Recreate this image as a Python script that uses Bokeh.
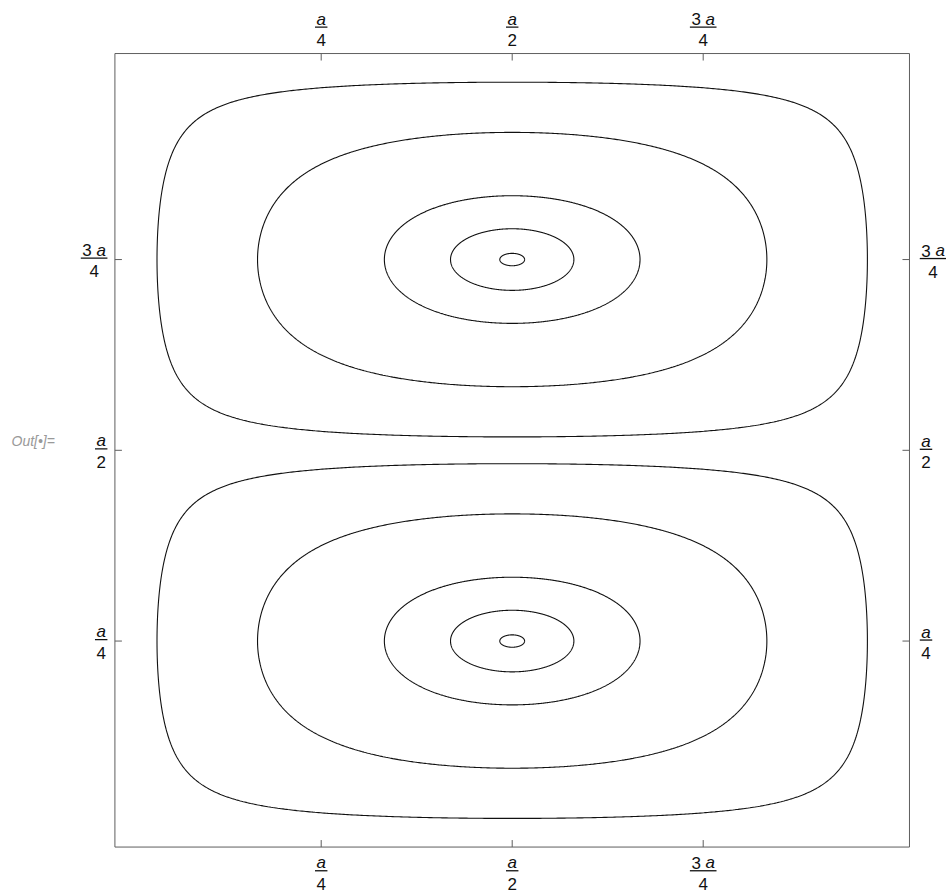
import numpy as np
from bokeh.plotting import figure
from bokeh.models import Range1d, ColumnDataSource
from bokeh.core.properties import value
from bokeh.embed import file_html
from bokeh.resources import INLINE

# ---------------- data ----------------
tick_values = [0.25, 0.5, 0.75]          # in units of a
tick_coef = ["", "", "3"]               # numerator coefficient
tick_symbol = ["a", "a", "a"]           # numerator symbol (italic)
tick_denom = ["4", "2", "4"]            # denominator
lobe_centers_y = [0.25, 0.75]           # centres of the two lobes (units of a)
contour_levels = [0.11, 0.5, 0.865, 0.968, 0.9987]
cell_label = "Out[•]="

# ---------------- layout / style ----------------
PXX, PXY = 764.0, 763.0          # pixels per unit a
X0_PAGE, Y0_PAGE = 129.7, 831.3  # page position of the data origin
W, H = 946, 894
PAD = 0.02                       # plot range padding (scaled)
FONT = "Liberation Sans"
FS = 17
CW = 0.556 * FS                  # digit / italic a width
SW = 0.278 * FS                  # space width
TSHIFT = 5.0                     # baseline correction (px, upward)


def dx(px):
    return px / PXX


def dy(px):
    return px / PXY


x_start = (0 - X0_PAGE) / PXX
x_end = (W - X0_PAGE) / PXX
y_end = (Y0_PAGE - 0) / PXY
y_start = (Y0_PAGE - H) / PXY

p = figure(width=W, height=H, output_backend="svg", toolbar_location=None,
           x_range=Range1d(x_start, x_end), y_range=Range1d(y_start, y_end),
           x_axis_location=None, y_axis_location=None, min_border=0)
p.grid.visible = False
p.outline_line_color = None
p.background_fill_color = "white"
p.border_fill_color = "white"


# ---------------- contours ----------------
def closed_contour(level, yc, n=500):
    x0 = np.arcsin(level) / np.pi
    x1 = 1.0 - x0
    t = np.linspace(0, np.pi, n)
    x = x0 + (x1 - x0) * (1 - np.cos(t)) / 2
    s = np.clip(level / np.maximum(np.sin(np.pi * x), 1e-12), -1, 1)
    d = 0.25 - np.arcsin(s) / (2 * np.pi)
    xs = np.concatenate([x, x[::-1]])
    ys = np.concatenate([yc - d, (yc + d)[::-1]])
    return list(xs), list(ys)


cxs, cys = [], []
for yc in lobe_centers_y:
    for lev in contour_levels:
        xs, ys = closed_contour(lev, yc)
        cxs.append(xs)
        cys.append(ys)
p.multi_line(xs=cxs, ys=cys, line_color="#111111", line_width=1.1)

# ---------------- frame ----------------
lo, hi = -PAD, 1 + PAD
p.quad(left=[lo], right=[hi], bottom=[lo], top=[hi], fill_color=None,
       line_color="#5e5e5e", line_width=1)

TL = 7
n = len(tick_values)
p.ray(x=tick_values, y=[lo] * n, length=TL, length_units="screen", angle=np.pi / 2,
      line_color="#5e5e5e", line_width=1)
p.ray(x=tick_values, y=[hi] * n, length=TL, length_units="screen", angle=-np.pi / 2,
      line_color="#5e5e5e", line_width=1)
p.ray(x=[lo] * n, y=tick_values, length=TL, length_units="screen", angle=0,
      line_color="#5e5e5e", line_width=1)
p.ray(x=[hi] * n, y=tick_values, length=TL, length_units="screen", angle=np.pi,
      line_color="#5e5e5e", line_width=1)

# ---------------- fraction tick labels ----------------
sym_c = dict(x=[], y=[], t=[])
sym_r = dict(x=[], y=[], t=[])
coef_l = dict(x=[], y=[], t=[])
den = dict(x=[], y=[], t=[])
bars = dict(x0=[], x1=[], y=[])

for side in ["bottom", "top", "left", "right"]:
    for tv, cf, sm, dn in zip(tick_values, tick_coef, tick_symbol, tick_denom):
        tw = CW if cf == "" else (CW * len(cf) + SW + CW)
        bw = max(tw, CW * len(dn)) + 3
        if side == "bottom":
            cx, by = tv, lo - dy(23.7)
        elif side == "top":
            cx, by = tv, hi + dy(26.5)
        elif side == "left":
            cx, by = lo - dx(7.5 + bw / 2), tv + dy(1.5)
        else:
            cx, by = hi + dx(10.3 + bw / 2), tv + dy(1.0)
        ny = by + dy(3 + TSHIFT)
        if cf == "":
            sym_c["x"].append(cx); sym_c["y"].append(ny); sym_c["t"].append(sm)
        else:
            coef_l["x"].append(cx - dx(tw / 2)); coef_l["y"].append(ny); coef_l["t"].append(cf)
            sym_r["x"].append(cx + dx(tw / 2)); sym_r["y"].append(ny); sym_r["t"].append(sm)
        den["x"].append(cx); den["y"].append(by - dy(18 - TSHIFT)); den["t"].append(dn)
        bars["x0"].append(cx - dx(bw / 2)); bars["x1"].append(cx + dx(bw / 2)); bars["y"].append(by)

common = dict(text_font=value(FONT), text_font_size=f"{FS}px", text_color="#111111",
              text_baseline="alphabetic")
p.text(x="x", y="y", text="t", source=ColumnDataSource(sym_c), text_align="center",
       text_font_style="italic", **common)
p.text(x="x", y="y", text="t", source=ColumnDataSource(sym_r), text_align="right",
       text_font_style="italic", **common)
p.text(x="x", y="y", text="t", source=ColumnDataSource(coef_l), text_align="left", **common)
p.text(x="x", y="y", text="t", source=ColumnDataSource(den), text_align="center", **common)
p.segment(x0="x0", x1="x1", y0="y", y1="y", source=ColumnDataSource(bars),
          line_color="#111111", line_width=1.3)

# ---------------- cell label ----------------
p.text(x=[(11 - X0_PAGE) / PXX], y=[(Y0_PAGE - 445 + TSHIFT) / PXY], text=[cell_label],
       text_font=value(FONT), text_font_size="14px", text_font_style="italic",
       text_color="#999999", text_baseline="alphabetic", text_align="left")

open("out.html", "w").write(file_html(p, INLINE))
